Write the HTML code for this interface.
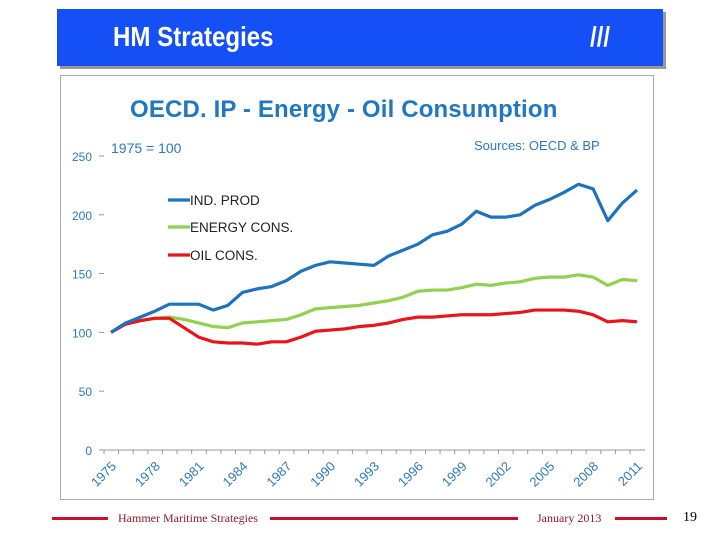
<!DOCTYPE html>
<html><head><meta charset="utf-8"><style>
body{margin:0;width:720px;height:540px;background:#fff;overflow:hidden;position:relative;font-family:"Liberation Sans",sans-serif}
.hdr{position:absolute;left:57px;top:9px;width:606px;height:57px;background:#1450f5;box-shadow:3px 3px 0 #999}
.hdr span{position:absolute;color:#fff;font-weight:bold;font-family:"Liberation Sans Narrow","Liberation Sans",sans-serif;transform:scaleX(0.86);transform-origin:left}
.frame{position:absolute;left:60px;top:75px;width:594px;height:425px;border:1px solid #aaa;box-sizing:border-box}
.ft{position:absolute;top:511px;font-family:"Liberation Serif",serif;font-size:12px;color:#8b1a2a}
.ln{position:absolute;top:517px;height:3px;background:#c8102e}
</style></head><body>
<div class="hdr">
<span style="left:56px;top:12px;font-size:28px">HM Strategies</span>
<span style="left:533px;top:12px;font-size:28px">///</span>
</div>
<div class="frame"></div>
<svg id="c" width="720" height="540" style="position:absolute;left:0;top:0">
<text x="130" y="117" font-size="24" font-weight="bold" letter-spacing="0.15" fill="#1f78c1">OECD.  IP - Energy  - Oil Consumption</text>
<text x="111" y="153" font-size="14" fill="#2a7ab8">1975 = 100</text>
<text x="474" y="150" font-size="13" fill="#2a7ab8">Sources: OECD &amp; BP</text>
</svg>
<div class="ln" style="left:52px;width:56px"></div>
<div class="ft" style="left:118px">Hammer Maritime Strategies</div>
<div class="ln" style="left:270px;width:248px"></div>
<div class="ft" style="left:537px">January 2013</div>
<div class="ln" style="left:615px;width:52px"></div>
<div class="ft" style="left:683px;top:510px;font-size:14px;color:#000">19</div>
<script>
const years=[];for(let y=1975;y<=2011;y++)years.push(y);
const indProd=[100,108,113,118,124,124,124,119,123,134,137,139,144,152,157,160,159,158,157,165,170,175,183,186,192,203,198,198,200,208,213,219,226,222,195,210,221];
const energyCons=[100,107,110,112,113,111,108,105,104,108,109,110,111,115,120,121,122,123,125,127,130,135,136,136,138,141,140,142,143,146,147,147,149,147,140,145,144];
const oilCons=[100,107,110,112,112,104,96,92,91,91,90,92,92,96,101,102,103,105,106,108,111,113,113,114,115,115,115,116,117,119,119,119,118,115,109,110,109];
const yTicks=[0,50,100,150,200,250];
const labelYears=[1975,1978,1981,1984,1987,1990,1993,1996,1999,2002,2005,2008,2011];
const svg=document.getElementById('c');const NS='http://www.w3.org/2000/svg';
const x=yr=>111+(yr-1975)*(526/36);
const y=v=>450-v*(294/250);
function mk(t,a){const e=document.createElementNS(NS,t);for(const k in a)e.setAttribute(k,a[k]);svg.appendChild(e);return e;}
yTicks.forEach(v=>{const t=mk('text',{x:92,y:y(v)+5,'font-size':12,fill:'#2a7ab8','text-anchor':'end'});t.textContent=v;


const l=mk('line',{x1:99,x2:104,y1:y(v),y2:y(v),stroke:'#999'});

});
const ax=mk('line',{x1:99,x2:645,y1:y(0),y2:y(0),stroke:'#999'});


years.forEach(yr=>{const l=mk('line',{x1:x(yr)-7,x2:x(yr)-7,y1:y(0),y2:y(0)+4,stroke:'#999'});

});
labelYears.forEach(yr=>{const t=mk('text',{x:x(yr)+6,y:y(0)+17,'font-size':13,fill:'#2a7ab8','text-anchor':'end',transform:`rotate(-45 ${x(yr)+6} ${y(0)+17})`});t.textContent=yr;

});
function series(d,c,n){const p=mk('polyline',{points:d.map((v,i)=>x(years[i])+','+y(v)).join(' '),fill:'none',stroke:c,'stroke-width':3.2,'stroke-linejoin':'round'});

}
series(energyCons,'#92d050','line-energy-cons');
series(oilCons,'#e8161b','line-oil-cons');
series(indProd,'#1f72bd','line-ind-prod');
[['IND. PROD','#1f72bd',200],['ENERGY CONS.','#92d050',227],['OIL CONS.','#e8161b',255]].forEach(([n,c,yy])=>{
const l=mk('line',{x1:168,x2:190,y1:yy,y2:yy,stroke:c,'stroke-width':3.2});


const t=mk('text',{x:190,y:yy+5,'font-size':13.5,fill:'#222'});t.textContent=n;

});
</script>
</body></html>
